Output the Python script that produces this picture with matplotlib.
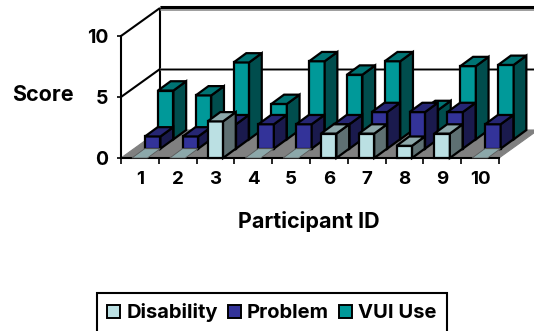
import matplotlib
matplotlib.use("Agg")
import matplotlib.pyplot as plt
from matplotlib.patches import Polygon, Patch

plt.rcParams['font.family'] = ['Inter', 'Liberation Sans', 'DejaVu Sans']
plt.rcParams['font.weight'] = 'bold'

participants = ['1', '2', '3', '4', '5', '6', '7', '8', '9', '10']
disability = [0, 0, 3, 0, 0, 2, 2, 1, 2, 0]
problem = [1, 1, 2, 2, 2, 2, 3, 3, 3, 2]
vui_use = [4, 3.6, 6.3, 2.9, 6.4, 5.3, 6.4, 2.4, 6, 6.1]

series = [('Disability', disability, '#BBE0E3', '#8CA8AA', '#5E7072'),
          ('Problem', problem, '#333399', '#262673', '#1A1A4D'),
          ('VUI Use', vui_use, '#009999', '#007373', '#004D4D')]

W, H = 534, 331
fig = plt.figure(figsize=(W / 100, H / 100), dpi=100, facecolor='white')
ax = fig.add_axes([121 / W, 1 - 158 / H, 378 / W, 122 / H])
ax.set_xlim(0, 10)
ax.set_ylim(0, 10)
ax.patch.set_visible(False)

DX, DY = 39 / 37.8, 28 / 12.2   # oblique offset of the chart's depth
LW = 1.6
EC = 'black'


def poly(pts, fc, z, ec=EC, lw=LW):
    ax.add_patch(Polygon(pts, closed=True, fc=fc, ec=ec, lw=lw, zorder=z,
                         clip_on=False, joinstyle='miter'))


def line(xs, ys, lw=LW, c=EC, z=1):
    ax.plot(xs, ys, color=c, lw=lw, zorder=z, clip_on=False, solid_capstyle='butt')


# back wall, side wall and floor
line([DX, DX], [DY, 10 + DY], lw=1.5)
line([DX, 10 + DX], [10 + DY, 10 + DY], lw=3.6, c='#A0A0A0', z=1)
line([DX, 10 + DX], [10 + DY + 0.1, 10 + DY + 0.1], lw=2.2)
line([DX, 10 + DX], [5 + DY, 5 + DY], lw=2.0, c='#A0A0A0', z=1)
line([DX, 10 + DX], [5 + DY, 5 + DY], lw=1.0)
line([0, DX], [10, 10 + DY], lw=1.5)
line([0, DX], [5, 5 + DY], lw=1.5)
poly([(0, 0), (10, 0), (10 + DX, DY), (DX, DY)], '#808080', 2, ec='#808080', lw=0.8)

# bars, back row first
BAR_W, OFF, ROW_X, ROW_Y, D_X, D_Y = 0.41, 0.29, DX / 3, DY / 3, 0.336, 0.762
z = 3
for k in (2, 1, 0):
    label, vals, front, top, side = series[k]
    for i in range(len(vals) - 1, -1, -1):
        v = vals[i]
        x0 = i + OFF + k * ROW_X
        x1 = x0 + BAR_W
        y0 = k * ROW_Y
        y1 = y0 + v
        if v > 0:
            poly([(x0, y0), (x1, y0), (x1, y1), (x0, y1)], front, z)
            poly([(x1, y0), (x1 + D_X, y0 + D_Y), (x1 + D_X, y1 + D_Y), (x1, y1)], side, z)
            poly([(x0, y1), (x1, y1), (x1 + D_X, y1 + D_Y), (x0 + D_X, y1 + D_Y)], top, z)
        else:
            poly([(x0, y1), (x1, y1), (x1 + D_X, y1 + D_Y), (x0 + D_X, y1 + D_Y)], top, z,
                 ec='#5A5A5A', lw=0.6)
        z += 0.01

# axes
for s in ('top', 'right'):
    ax.spines[s].set_visible(False)
for s in ('left', 'bottom'):
    ax.spines[s].set_linewidth(1.5)
    ax.spines[s].set_zorder(2.5)
ax.set_yticks([0, 5, 10])
ax.set_xticks(range(11))
ax.set_xticklabels([])
ax.set_xticks([i + 0.5 for i in range(10)], minor=True)
ax.set_xticklabels(participants, minor=True)
ax.tick_params(axis='x', which='major', length=4.5, width=1.2)
ax.tick_params(axis='x', which='minor', length=0, pad=9.5, labelsize=13.5)
ax.tick_params(axis='y', length=3, width=1.2, pad=6, labelsize=14)

fig.text(43 / W, 1 - 95 / H, 'Score', ha='center', va='center', fontsize=15.5, fontweight='bold')
fig.text(309 / W, 1 - 222 / H, 'Participant ID', ha='center', va='center', fontsize=15.5, fontweight='bold')

handles = [Patch(fc=s[2], ec='black', lw=1.4, label=s[0]) for s in series]
leg = fig.legend(handles=handles, ncol=3, loc='center', bbox_to_anchor=(272 / W, 1 - 313 / H),
                 fontsize=14.5, frameon=True, fancybox=False, edgecolor='black', framealpha=1,
                 handlelength=0.65, handleheight=0.65, handletextpad=0.3, columnspacing=0.5,
                 borderpad=0.5, borderaxespad=0)
leg.get_frame().set_linewidth(1.5)

fig.savefig('out.png', dpi=100)
